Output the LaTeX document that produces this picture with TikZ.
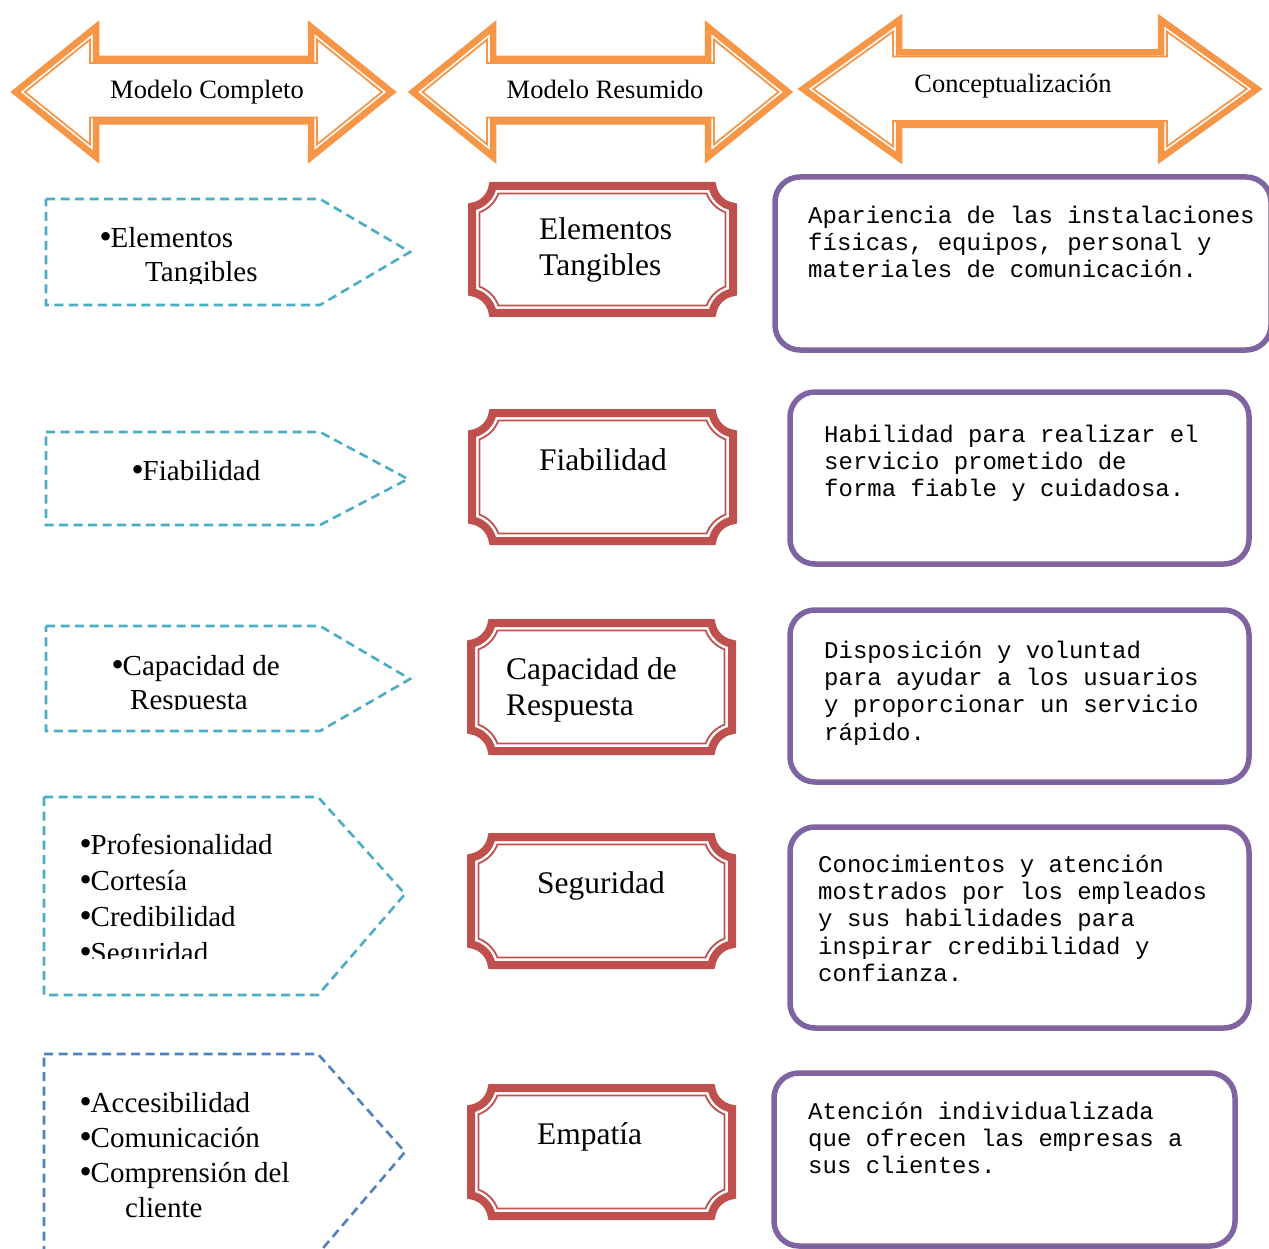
\documentclass[tikz,border=0pt]{standalone}
\usepackage{fontspec}
\setmainfont{Liberation Serif}
\newfontfamily\descfont{Liberation Mono}
\newfontfamily\bulletfont{DejaVu Sans}

\definecolor{arroworange}{HTML}{F79646}
\definecolor{framered}{HTML}{C0504D}
\definecolor{listteal}{HTML}{4BACC6}
\definecolor{listblue}{HTML}{4F81BD}
\definecolor{descpurple}{HTML}{8064A2}

% list bullet, a little heavier than the text font's own
\newcommand\blt{\makebox[13.5pt][l]{\bulletfont •}}

\tikzset{
  outerarrow/.style={draw=arroworange, line width=6.5pt, line join=miter},
  innerarrow/.style={draw=arroworange, line width=1.8pt, line join=miter},
  framethick/.style={draw=framered, line width=8pt},
  framethin/.style={draw=framered, line width=1.8pt},
  listshape/.style={draw=listteal, line width=2.6pt, dash pattern=on 9pt off 5.5pt},
  descbox/.style={draw=descpurple, line width=5.5pt, rounded corners=25pt},
  headlabel/.style={inner sep=0pt, anchor=base, font=\fontsize{26.5}{30}\selectfont},
  framelabel/.style={inner sep=0pt, align=left, font=\fontsize{31.5}{36}\selectfont},
  listlabel/.style={inner sep=0pt, align=left},
  desclabel/.style={inner sep=0pt, align=left, anchor=north west,
                    font=\descfont\fontsize{24}{27.3}\selectfont},
}

% rectangle with scooped (concave) corners; coordinates given with y growing downwards
% #1 options, #2 left, #3 top, #4 right, #5 bottom, #6 inset of the drawn line
\newcommand\scallopframe[6]{%
  \pgfmathsetmacro\scR{21+#6}%
  \pgfmathsetmacro\scS{sqrt(\scR*\scR-#6*#6)}%
  \pgfmathsetmacro\scA{asin(#6/\scR)}%
  \draw[#1] ({#2+#6},{-#3-\scS}) arc[start angle={-90+\scA}, end angle={-\scA}, radius=\scR pt]
    -- ({#4-\scS},{-#3-#6}) arc[start angle={180+\scA}, end angle={270-\scA}, radius=\scR pt]
    -- ({#4-#6},{-#5+\scS}) arc[start angle={90+\scA}, end angle={180-\scA}, radius=\scR pt]
    -- ({#2+\scS},{-#5+#6}) arc[start angle={\scA}, end angle={90-\scA}, radius=\scR pt]
    -- cycle;
}

% left-right block arrow with a thick outer and a thin inner outline
% #1 left tip, #2 left head base, #3 right head base, #4 right tip,
% #5 middle height, #6 half head height, #7 shaft top, #8 shaft bottom
\newcommand\doublearrow[8]{%
  \pgfmathsetmacro\daLen{#2-#1}%
  \pgfmathsetmacro\daAng{atan(#6/\daLen)}%
  \pgfmathsetmacro\daOff{6/sin(\daAng)}%
  \pgfmathsetmacro\daIn{(\daLen-6-\daOff)*#6/\daLen}%
  \draw[outerarrow] (#1,-#5) -- (#2,{-#5+#6}) -- (#2,-#7) -- (#3,-#7) -- (#3,{-#5+#6})
    -- (#4,-#5) -- (#3,{-#5-#6}) -- (#3,-#8) -- (#2,-#8) -- (#2,{-#5-#6}) -- cycle;
  \draw[innerarrow] ({#1+\daOff},-#5) -- ({#2-6},{-#5+\daIn}) -- ({#2-6},{-#7-4})
    -- ({#3+6},{-#7-4}) -- ({#3+6},{-#5+\daIn}) -- ({#4-\daOff},-#5)
    -- ({#3+6},{-#5-\daIn}) -- ({#3+6},{-#8+4}) -- ({#2-6},{-#8+4})
    -- ({#2-6},{-#5-\daIn}) -- cycle;
}

\begin{document}
\begin{tikzpicture}[x=1pt, y=1pt]
\useasboundingbox (0,0) rectangle (1269,-1249);
\clip (0,0) rectangle (1269,-1249);
\fill[white] (0,0) rectangle (1269,-1249);

% column headers
\doublearrow{15.5}{96}{311}{391.5}{92}{65}{59}{121.5}
\doublearrow{413}{493}{708}{788}{92}{65}{59}{121.5}
\doublearrow{803}{899}{1161}{1257}{89}{69}{52.5}{125}
\node[headlabel] (hd1) at (207,-99) {Modelo Completo};
\node[headlabel] (hd2) at (605,-99) {Modelo Resumido};
\node[headlabel] (hd3) at (1013,-92.5) {Conceptualización};

% full model: dashed pentagons
\draw[listshape] (46,-199) -- (320,-199) -- (410,-252) -- (320,-305) -- (46,-305) -- cycle;
\draw[listshape] (46,-432) -- (320,-432) -- (408,-479) -- (320,-525) -- (46,-525) -- cycle;
\draw[listshape] (46,-626) -- (320,-626) -- (410,-679) -- (320,-731) -- (46,-731) -- cycle;
\draw[listshape] (44,-797) -- (318,-797) -- (405,-894) -- (318,-995) -- (44,-995) -- cycle;
\draw[listshape, draw=listblue] (44,-1054) -- (318,-1054) -- (405,-1152) -- (318,-1254) -- (44,-1254) -- cycle;

\begin{scope}
  \clip (0,-190) rectangle (430,-284);
  \node[listlabel, anchor=north west, font=\fontsize{29}{34}\selectfont] (lt1) at (97,-223.2)
    {\strut\blt Elementos\\\hspace*{48pt}Tangibles};
\end{scope}
\node[listlabel, anchor=base west, font=\fontsize{29}{34}\selectfont] (lt2) at (129,-480) {\blt Fiabilidad};
\begin{scope}
  \clip (0,-620) rectangle (430,-709.5);
  \node[listlabel, anchor=north west, font=\fontsize{29}{34}\selectfont] (lt3) at (109,-651.2)
    {\strut\blt Capacidad de\\\hspace*{21pt}Respuesta};
\end{scope}
\begin{scope}
  \clip (0,-790) rectangle (430,-958);
  \node[listlabel, anchor=north west, font=\fontsize{29}{36.2}\selectfont] (lt4) at (77,-828.7)
    {\strut\blt Profesionalidad\\\blt Cortesía\\\blt Credibilidad\\\blt Seguridad};
\end{scope}
\begin{scope}
  \clip (0,-1050) rectangle (430,-1220);
  \node[listlabel, anchor=north west, font=\fontsize{29}{35}\selectfont] (lt5) at (77,-1087.5)
    {\strut\blt Accesibilidad\\\blt Comunicación\\\blt Comprensión del\\\hspace*{48pt}cliente};
\end{scope}

% summarised model: framed labels
\foreach \ft/\fb/\fl/\fr in {182/317/468/737, 409/545/468/737, 619/755/467/736,
                             833/969/467/736, 1084/1220/467/736}{
  \scallopframe{framethick}{\fl}{\ft}{\fr}{\fb}{4}
  \scallopframe{framethin}{\fl}{\ft}{\fr}{\fb}{11.5}
}
\node[framelabel, anchor=north west] (ft1) at (539,-213.8) {\strut Elementos\\Tangibles};
\node[framelabel, anchor=base west] (ft2) at (539,-470) {Fiabilidad};
\node[framelabel, anchor=north west] (ft3) at (506,-653.8) {\strut Capacidad de\\Respuesta};
\node[framelabel, anchor=base west] (ft4) at (537,-893) {Seguridad};
\node[framelabel, anchor=base west] (ft5) at (537,-1144) {Empatía};

% conceptualisation: rounded description boxes
\draw[descbox] (775,-177) rectangle (1271,-350);
\draw[descbox] (790,-392) rectangle (1249,-564);
\draw[descbox] (790,-610) rectangle (1249,-782);
\draw[descbox] (790,-827) rectangle (1249,-1028);
\draw[descbox] (774,-1073) rectangle (1235,-1246);

\node[desclabel] (dt1) at (808,-203.9)
  {\strut Apariencia de las instalaciones\\físicas, equipos, personal y\\materiales de comunicación.};
\node[desclabel] (dt2) at (824,-422.9)
  {\strut Habilidad para realizar el\\servicio prometido de\\forma fiable y cuidadosa.};
\node[desclabel] (dt3) at (824,-638.9)
  {\strut Disposición y voluntad\\para ayudar a los usuarios\\y proporcionar un servicio\\rápido.};
\node[desclabel] (dt4) at (818,-852.9)
  {\strut Conocimientos y atención\\mostrados por los empleados\\y sus habilidades para\\inspirar credibilidad y\\confianza.};
\node[desclabel] (dt5) at (808,-1099.9)
  {\strut Atención individualizada\\que ofrecen las empresas a\\sus clientes.};
\end{tikzpicture}
\end{document}
